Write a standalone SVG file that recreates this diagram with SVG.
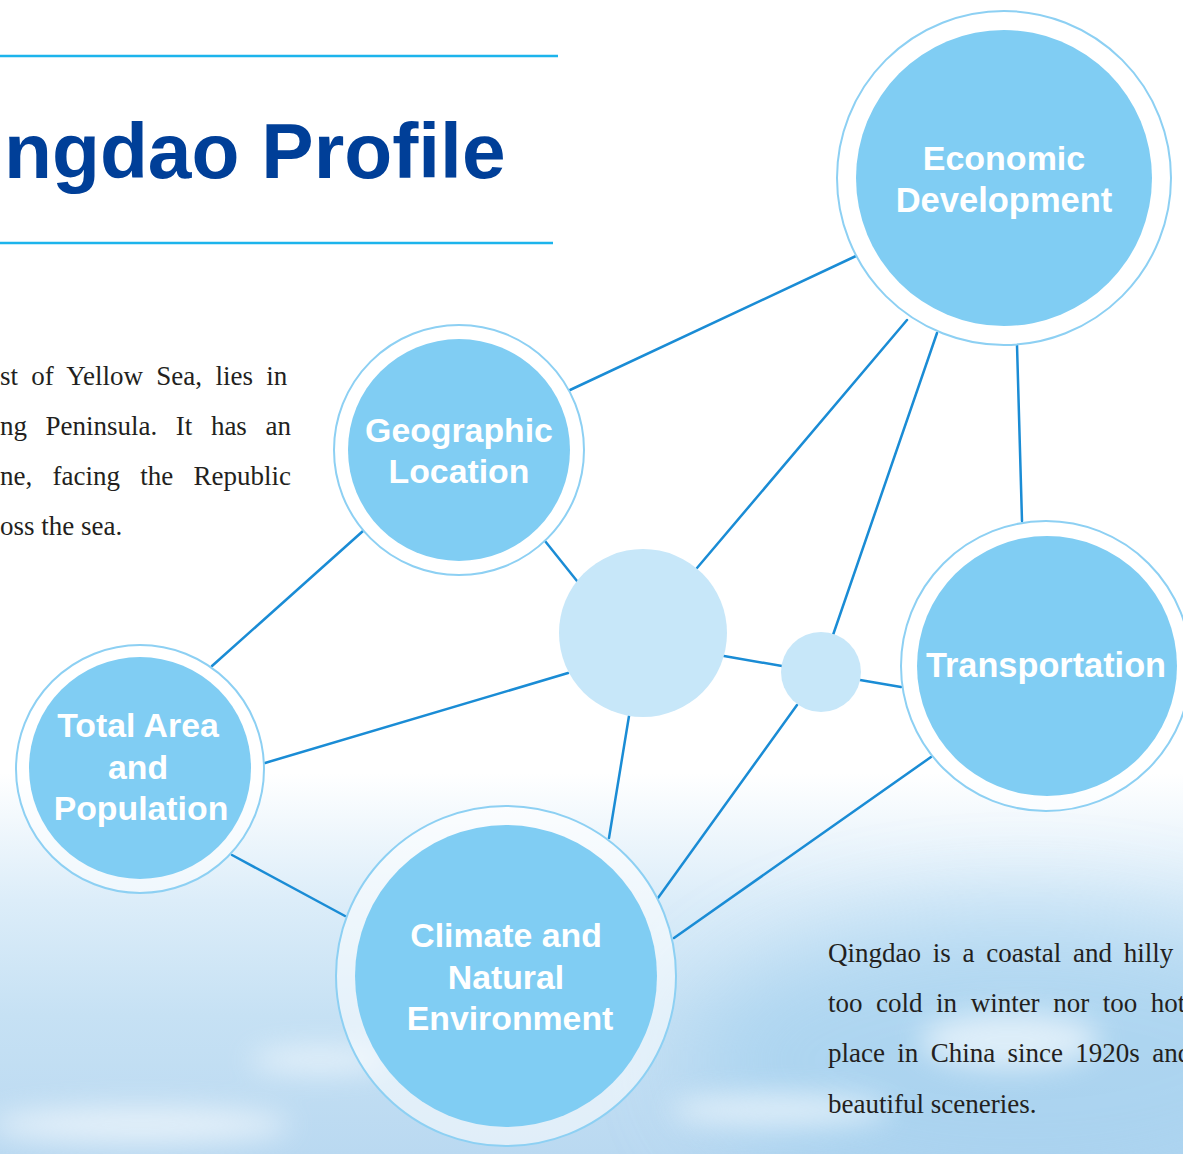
<svg xmlns="http://www.w3.org/2000/svg" width="1183" height="1154" viewBox="0 0 1183 1154">
<defs>
<linearGradient id="sky" x1="0" y1="0" x2="0" y2="1">
<stop offset="0" stop-color="#ffffff"/>
<stop offset="0.67" stop-color="#ffffff"/>
<stop offset="0.78" stop-color="#dcedf9"/>
<stop offset="0.88" stop-color="#c6e1f4"/>
<stop offset="1" stop-color="#bad9f1"/>
</linearGradient>
<filter id="blur" x="-50%" y="-50%" width="200%" height="200%"><feGaussianBlur stdDeviation="14"/></filter>
<filter id="blurBig" x="-50%" y="-50%" width="200%" height="200%"><feGaussianBlur stdDeviation="45"/></filter>
<style>
.ring{fill:#ffffff;fill-opacity:0.55;stroke:#8dd0f3;stroke-width:2}
.core{fill:#80cdf3}
.bub{fill:#c7e7f9}
.lbl{font-family:"Liberation Sans",Arial,sans-serif;font-weight:bold;fill:#ffffff;text-anchor:middle}
.body{font-family:"Liberation Serif","Times New Roman",serif;font-size:27px;fill:#231f20}
.edge{stroke:#1a8cd5;stroke-width:2.5;fill:none;stroke-linecap:round}
</style>
</defs>
<rect width="1183" height="1154" fill="url(#sky)"/>
<ellipse cx="1020" cy="1060" rx="330" ry="150" fill="#9ccdee" opacity="0.55" filter="url(#blurBig)"/>
<g filter="url(#blur)" fill="#ffffff" opacity="0.6">
<ellipse cx="140" cy="1125" rx="150" ry="18"/>
<ellipse cx="780" cy="1110" rx="110" ry="16"/>
<ellipse cx="1010" cy="1040" rx="90" ry="28"/>
<ellipse cx="320" cy="1060" rx="70" ry="12"/>
</g>
<g id="title">
<line x1="0" y1="56" x2="558" y2="56" stroke="#1cb4ec" stroke-width="2.5"/>
<line x1="0" y1="243" x2="553" y2="243" stroke="#1cb4ec" stroke-width="2.5"/>
<text x="4" y="178" font-family="'Liberation Sans',Arial,sans-serif" font-weight="bold" font-size="78.5" fill="#003f98">ngdao Profile</text>
</g>
<g id="text-left" class="body">
<text x="0" y="385" word-spacing="6.6">st of Yellow Sea, lies in</text>
<text x="0" y="435" word-spacing="11.8">ng Peninsula. It has an</text>
<text x="0" y="485" word-spacing="13.5">ne, facing the Republic</text>
<text x="0" y="535">oss the sea.</text>
</g>
<g id="text-right" class="body">
<text x="828" y="962" word-spacing="5">Qingdao is a coastal and hilly</text>
<text x="828" y="1012" word-spacing="6.8">too cold in winter nor too hot</text>
<text x="828" y="1062" word-spacing="5.6">place in China since 1920s and</text>
<text x="828" y="1113">beautiful sceneries.</text>
</g>
<g id="connectors" class="edge">
<line x1="570" y1="390" x2="856" y2="256"/>
<line x1="907" y1="320" x2="697" y2="568"/>
<line x1="937" y1="333" x2="833" y2="635"/>
<line x1="1017" y1="345" x2="1022" y2="521"/>
<line x1="545" y1="541" x2="577" y2="581"/>
<line x1="363" y1="531" x2="212" y2="666"/>
<line x1="265" y1="763" x2="568" y2="673"/>
<line x1="724" y1="656" x2="782" y2="666"/>
<line x1="860" y1="680" x2="901" y2="687"/>
<line x1="629" y1="716" x2="609" y2="838"/>
<line x1="797" y1="705" x2="658" y2="898"/>
<line x1="931" y1="757" x2="674" y2="938"/>
<line x1="232" y1="855" x2="345" y2="916"/>
</g>
<g id="hub-large"><circle class="bub" cx="643" cy="633" r="84"/></g>
<g id="hub-small"><circle class="bub" cx="821" cy="672" r="40"/></g>
<g id="economic">
<circle class="ring" cx="1004" cy="178" r="167"/>
<circle class="core" cx="1004" cy="178" r="148"/>
<text class="lbl" x="1004" y="170" font-size="34">Economic</text>
<text class="lbl" x="1004" y="212" font-size="34.5">Development</text>
</g>
<g id="geographic">
<circle class="ring" cx="459" cy="450" r="125"/>
<circle class="core" cx="459" cy="450" r="111"/>
<text class="lbl" x="459" y="442" font-size="33.8">Geographic</text>
<text class="lbl" x="459" y="483" font-size="33.8">Location</text>
</g>
<g id="total-area">
<circle class="ring" cx="140" cy="769" r="124"/>
<circle class="core" cx="140" cy="768" r="111"/>
<text class="lbl" x="138" y="737" font-size="33.8">Total Area</text>
<text class="lbl" x="138" y="779" font-size="33.8">and</text>
<text class="lbl" x="141" y="820" font-size="33.8">Population</text>
</g>
<g id="transportation">
<circle class="ring" cx="1046" cy="666" r="145"/>
<circle class="core" cx="1047" cy="666" r="130"/>
<text class="lbl" x="1046" y="677" font-size="34.3">Transportation</text>
</g>
<g id="climate">
<circle class="ring" cx="506" cy="976" r="170"/>
<circle class="core" cx="506" cy="976" r="151"/>
<text class="lbl" x="506" y="947" font-size="33.8">Climate and</text>
<text class="lbl" x="506" y="989" font-size="33.8">Natural</text>
<text class="lbl" x="510" y="1030" font-size="33.8">Environment</text>
</g>
</svg>
